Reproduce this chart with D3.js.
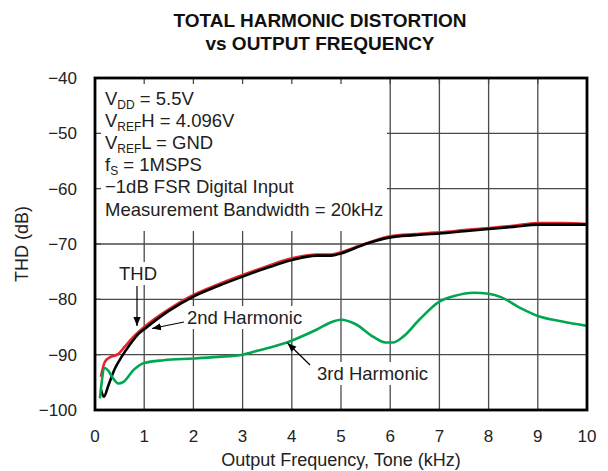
<!DOCTYPE html>
<html>
<head>
<meta charset="utf-8">
<script src="https://cdn.jsdelivr.net/npm/d3@7"></script>
<style>
  body { margin: 0; background: #fff; }
  svg { font-family: "Liberation Sans", Arial, sans-serif; }
</style>
</head>
<body>
<svg id="chart" width="608" height="471"></svg>
<script>
// THD (red), 2nd harmonic (black), 3rd harmonic (green)
const thdFreq = [0.12, 0.2, 0.3, 0.47, 0.6, 0.78, 1.0, 1.5, 2.0, 2.5, 3.0, 3.5, 4.0, 4.5, 4.8, 5.0, 5.5, 6.0, 6.5, 7.0, 7.5, 8.0, 8.5, 9.0, 9.5, 10];
const thdDb = [-94.0, -91.3, -90.5, -89.9, -88.6, -86.8, -85.0, -81.8, -79.2, -77.3, -75.6, -74.0, -72.6, -71.9, -71.9, -71.5, -69.9, -68.6, -68.2, -67.9, -67.5, -67.1, -66.7, -66.2, -66.2, -66.4];

const h2Freq = [0.12, 0.18, 0.27, 0.4, 0.54, 0.7, 0.9, 1.0, 1.5, 2.0, 2.5, 3.0, 3.5, 4.0, 4.5, 4.8, 5.0, 5.5, 6.0, 6.5, 7.0, 7.5, 8.0, 8.5, 9.0, 9.5, 10];
const h2Db = [-96.3, -97.6, -95.6, -92.6, -90.4, -88.3, -86.1, -85.4, -82.1, -79.5, -77.6, -75.9, -74.3, -72.9, -72.1, -72.1, -71.7, -70.0, -68.8, -68.4, -68.1, -67.7, -67.3, -66.9, -66.5, -66.5, -66.5];

const h3Freq = [0.1, 0.2, 0.27, 0.37, 0.47, 0.58, 0.78, 1.0, 1.4, 2.0, 2.5, 3.0, 3.3, 3.9, 4.5, 4.84, 5.0, 5.3, 5.66, 5.9, 6.05, 6.27, 6.6, 7.0, 7.3, 7.7, 8.0, 8.25, 8.65, 9.0, 9.5, 10];
const h3Db = [-97.9, -92.4, -92.9, -94.3, -95.2, -94.9, -92.8, -91.5, -91.0, -90.7, -90.4, -90.0, -89.3, -87.8, -85.5, -84.0, -83.7, -84.5, -86.8, -87.8, -87.8, -86.7, -83.6, -80.4, -79.4, -78.8, -79.0, -79.6, -81.6, -83.0, -84.0, -84.8];

const xTicks = [0, 1, 2, 3, 4, 5, 6, 7, 8, 9, 10];
const yTicks = [-100, -90, -80, -70, -60, -50, -40];

const conditions = [
  ['V', 'DD', ' = 5.5V'],
  ['V', 'REF', 'H = 4.096V'],
  ['V', 'REF', 'L = GND'],
  ['f', 'S', ' = 1MSPS'],
  ['\u22121dB FSR Digital Input', '', ''],
  ['Measurement Bandwidth = 20kHz', '', '']
];

const W = 608, H = 471;
const plot = { left: 95, right: 587, top: 78, bottom: 410 };

const x = d3.scaleLinear().domain([0, 10]).range([plot.left, plot.right]);
const y = d3.scaleLinear().domain([-100, -40]).range([plot.bottom, plot.top]);

const svg = d3.select('#chart');
svg.append('rect').attr('width', W).attr('height', H).attr('fill', '#fff');

// Title
const title = svg.append('text')
  .attr('text-anchor', 'middle')
  .attr('font-weight', 'bold')
  .attr('font-size', 19)
  .attr('fill', '#111');
title.append('tspan').attr('x', 320).attr('y', 27).text('TOTAL HARMONIC DISTORTION');
title.append('tspan').attr('x', 320).attr('y', 50).text('vs OUTPUT FREQUENCY');

// layers
const gridG = svg.append('g');
const maskG = svg.append('g');
const curveG = svg.append('g');
const frameG = svg.append('g');
const labelG = svg.append('g');

// Grid
gridG.selectAll('line.v')
  .data(xTicks.slice(1, -1))
  .enter()
  .append('line')
    .attr('x1', d => x(d)).attr('x2', d => x(d))
    .attr('y1', plot.top).attr('y2', plot.bottom)
    .attr('stroke', '#4a4a4a').attr('stroke-width', 1.3);
gridG.selectAll('line.h')
  .data(yTicks.slice(1, -1))
  .enter()
  .append('line')
    .attr('x1', plot.left).attr('x2', plot.right)
    .attr('y1', d => y(d)).attr('y2', d => y(d))
    .attr('stroke', '#4a4a4a').attr('stroke-width', 1.3);

// white box behind the conditions text
maskG.append('rect')
  .attr('x', plot.left + 1).attr('y', plot.top + 1)
  .attr('width', 386 - plot.left).attr('height', 230 - plot.top)
  .attr('fill', '#fff');

// inward tick stubs
const stub = 6;
xTicks.slice(1, -1).forEach(t => {
  frameG.append('line').attr('x1', x(t)).attr('x2', x(t))
    .attr('y1', plot.top).attr('y2', plot.top + stub)
    .attr('stroke', '#4a4a4a').attr('stroke-width', 1.3);
});
yTicks.slice(1, -1).forEach(t => {
  frameG.append('line').attr('x1', plot.left).attr('x2', plot.left + stub)
    .attr('y1', y(t)).attr('y2', y(t))
    .attr('stroke', '#4a4a4a').attr('stroke-width', 1.3);
});

// Curves
const line = d3.line()
  .x(d => x(d[0]))
  .y(d => y(d[1]))
  .curve(d3.curveMonotoneX);

const series = [
  { f: thdFreq, v: thdDb, color: '#e3262d' },
  { f: h2Freq, v: h2Db, color: '#000' },
  { f: h3Freq, v: h3Db, color: '#00a651' }
];
series.forEach(s => {
  curveG.append('path')
    .datum(d3.zip(s.f, s.v))
    .attr('d', line)
    .attr('fill', 'none')
    .attr('stroke', s.color)
    .attr('stroke-width', 2.6)
    .attr('stroke-linejoin', 'round');
});

// Frame
frameG.append('rect')
  .attr('x', plot.left).attr('y', plot.top)
  .attr('width', plot.right - plot.left).attr('height', plot.bottom - plot.top)
  .attr('fill', 'none').attr('stroke', '#000').attr('stroke-width', 2.8);

// Axes labels
const minus = d => (d < 0 ? '\u2212' + Math.abs(d) : String(d));
svg.append('g').selectAll('text')
  .data(yTicks)
  .enter()
  .append('text')
    .attr('x', 77).attr('y', d => y(d) + 6)
    .attr('text-anchor', 'end')
    .attr('font-size', 17)
    .attr('fill', '#222')
    .text(minus);
svg.append('g').selectAll('text')
  .data(xTicks)
  .enter()
  .append('text')
    .attr('x', d => x(d)).attr('y', 442)
    .attr('text-anchor', 'middle')
    .attr('font-size', 17)
    .attr('fill', '#222')
    .text(d => d);

svg.append('text')
  .attr('x', (plot.left + plot.right) / 2).attr('y', 466)
  .attr('text-anchor', 'middle')
  .attr('font-size', 18)
  .attr('fill', '#222')
  .text('Output Frequency, Tone (kHz)');
svg.append('text')
  .attr('transform', 'translate(28,244) rotate(-90)')
  .attr('text-anchor', 'middle')
  .attr('font-size', 18)
  .attr('fill', '#222')
  .text('THD (dB)');

// Conditions block
conditions.forEach((c, i) => {
  const t = labelG.append('text')
    .attr('x', 105).attr('y', 105 + i * 22.1)
    .attr('font-size', 18.5)
    .attr('fill', '#222');
  t.append('tspan').text(c[0]);
  if (c[1]) {
    t.append('tspan').attr('font-size', 12).attr('dy', 4).text(c[1]);
    t.append('tspan').attr('dy', -4).text(c[2]);
  }
});

// Curve labels with white background
function label(txt, lx, ly) {
  const t = labelG.append('text')
    .attr('x', lx).attr('y', ly)
    .attr('font-size', 18.5)
    .attr('fill', '#222')
    .text(txt);
  const b = t.node().getBBox();
  maskG.append('rect')
    .attr('x', b.x - 2).attr('y', b.y - 1)
    .attr('width', b.width + 4).attr('height', b.height + 2)
    .attr('fill', '#fff');
}
label('THD', 119, 280);
label('2nd Harmonic', 187, 324);
label('3rd Harmonic', 317, 380);

// Arrows
svg.append('defs').append('marker')
  .attr('id', 'ah')
  .attr('viewBox', '0 0 10 10')
  .attr('refX', 10).attr('refY', 5)
  .attr('markerWidth', 9).attr('markerHeight', 9)
  .attr('markerUnits', 'userSpaceOnUse')
  .attr('orient', 'auto')
  .append('path').attr('d', 'M0,1 L10,5 L0,9 Z').attr('fill', '#000');

const arrows = [
  [137, 286, 137, 326],
  [184, 322, 152, 328.5],
  [310, 365, 287.5, 343]
];
arrows.forEach(a => {
  labelG.append('line')
    .attr('x1', a[0]).attr('y1', a[1]).attr('x2', a[2]).attr('y2', a[3])
    .attr('stroke', '#000').attr('stroke-width', 1.2)
    .attr('marker-end', 'url(#ah)');
});
</script>
</body>
</html>
